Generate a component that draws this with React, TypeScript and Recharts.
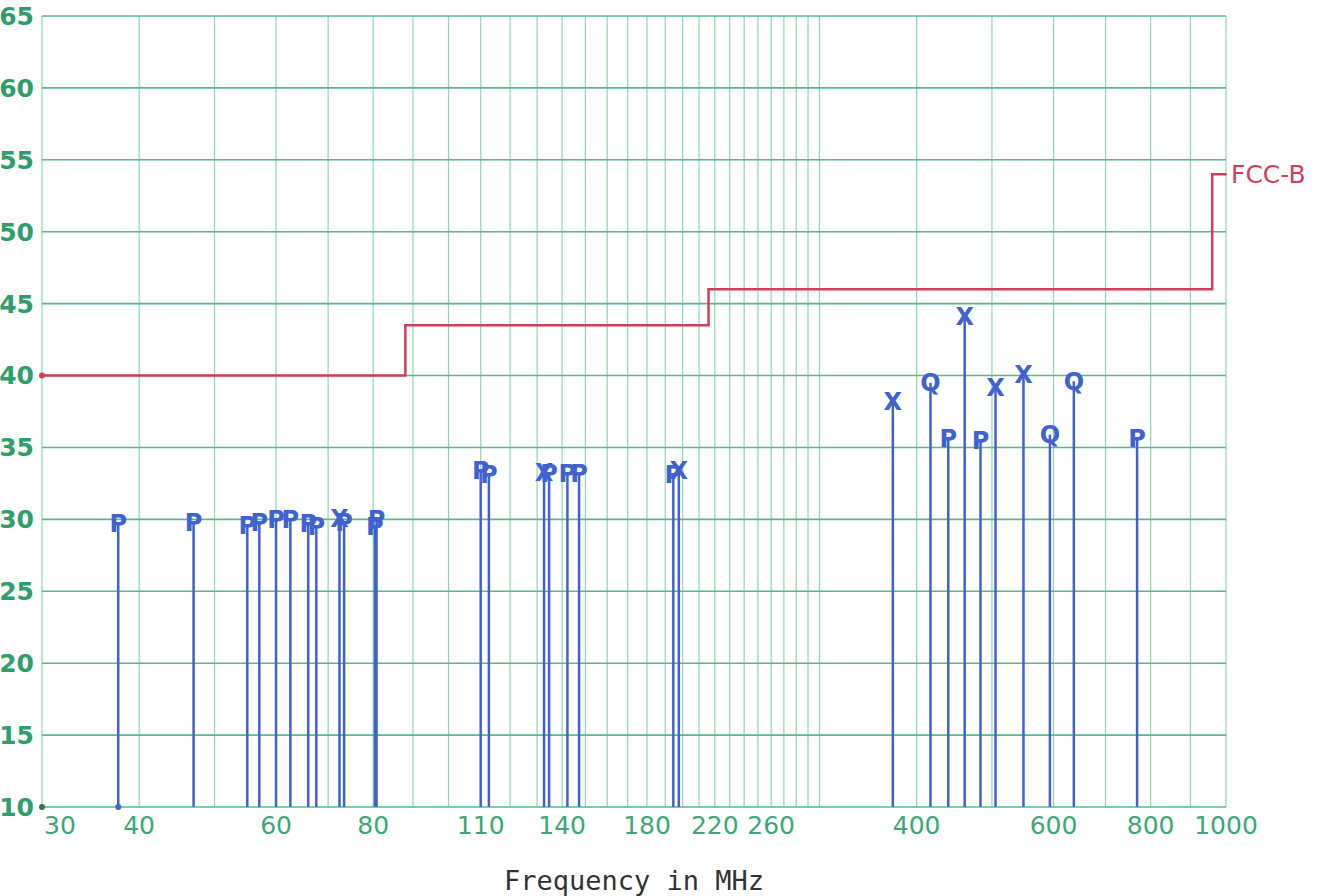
import React from 'react';
import {
  ComposedChart,
  Line,
  Scatter,
  XAxis,
  YAxis,
  CartesianGrid,
  ReferenceLine,
  ReferenceDot,
} from 'recharts';

// measured emissions: frequency (MHz), level (dBuV/m), detector letter
const emFreq = [
  37.6, 47.0, 55.1, 57.1, 60.0, 62.6, 66.0, 67.6, 72.4, 73.4, 80.4, 80.8,
  110.0, 112.7, 132.7, 134.7, 142.2, 147.2, 194.6, 197.8,
  372.8, 416.8, 439.3, 461.2, 483.3, 505.3, 548.9, 593.6, 637.2, 768.5,
];
const emLevel = [
  29.7, 29.8, 29.6, 29.8, 30.0, 30.0, 29.7, 29.5, 30.1, 29.8, 29.5, 30.0,
  33.4, 33.1, 33.3, 33.2, 33.2, 33.2, 33.1, 33.4,
  38.2, 39.5, 35.6, 44.1, 35.5, 39.2, 40.1, 35.9, 39.6, 35.6,
];
const emMark = [
  'P', 'P', 'P', 'P', 'P', 'P', 'P', 'P', 'X', 'P', 'P', 'P',
  'P', 'P', 'X', 'P', 'P', 'P', 'P', 'X',
  'X', 'Q', 'P', 'X', 'P', 'X', 'X', 'Q', 'Q', 'P',
];

// FCC class B limit
const limitFreq = [30, 88, 216, 960, 1000];
const limitLevel = [40, 43.5, 46, 54, 54];

const gridFreqs = [
  30, 40, 50, 60, 70, 80, 90, 100, 110, 120, 130, 140, 150, 160, 170, 180, 190,
  200, 210, 220, 230, 240, 250, 260, 270, 280, 290, 300,
  400, 500, 600, 700, 800, 900, 1000,
];
const freqLabels = [30, 40, 60, 80, 110, 140, 180, 220, 260, 400, 600, 800, 1000];
const levelTicks = [10, 15, 20, 25, 30, 35, 40, 45, 50, 55, 60, 65];

const emissions = emFreq.map((f, i) => ({ f, v: emLevel[i], mark: emMark[i] }));
const limit = limitFreq.map((f, i) => ({ f, v: limitLevel[i] }));

const GREEN = '#2f9d6c';
const BLUE = '#3f62d0';
const RED = '#d23d5a';

const FreqTick = (props: any) => {
  const { x, y, payload } = props;
  if (!freqLabels.includes(payload.value)) return <g />;
  // the plotter nudged "30" right so it doesn't hit the "10"
  const dx = payload.value === 30 ? 18 : 0;
  return (
    <text
      x={x + dx}
      y={y}
      dy="0.74em"
      textAnchor="middle"
      fill="#3aa877"
      fontSize={25}
      fontFamily="DejaVu Sans"
    >
      {payload.value}
    </text>
  );
};

const Marker = (props: any) => {
  const { cx, cy, payload } = props;
  return (
    <text
      x={cx}
      y={cy}
      dy="0.36em"
      textAnchor="middle"
      fill={BLUE}
      fontSize={24}
      fontWeight="bold"
      fontFamily="DejaVu Sans"
    >
      {payload.mark}
    </text>
  );
};

export default function App() {
  return (
    <div style={{ position: 'absolute', left: 0, top: 0, width: 1328, height: 896, background: '#fff' }}>
      <ComposedChart
        width={1328}
        height={896}
        margin={{ top: 16, right: 102, bottom: 49, left: 0 }}
      >
        <CartesianGrid horizontal={false} stroke="#8ed6b2" strokeWidth={1.2} />
        <CartesianGrid vertical={false} stroke="#56ba8b" strokeWidth={1.6} />
        <XAxis
          dataKey="f"
          type="number"
          scale="log"
          domain={[30, 1000]}
          ticks={gridFreqs}
          interval={0}
          allowDataOverflow
          axisLine={false}
          tickLine={false}
          height={40}
          tick={<FreqTick />}
          label={{
            value: 'Frequency in MHz',
            position: 'bottom',
            offset: 24,
            style: { fontFamily: 'DejaVu Sans Mono', fontSize: 27, fill: '#333' },
          }}
        />
        <YAxis
          type="number"
          domain={[10, 65]}
          ticks={levelTicks}
          interval={0}
          allowDataOverflow
          axisLine={false}
          tickLine={false}
          width={42}
          tick={{ fill: GREEN, fontSize: 25, fontWeight: 'bold', fontFamily: 'DejaVu Sans' }}
        />
        {emissions.map((e, i) => (
          <ReferenceLine
            key={i}
            segment={[{ x: e.f, y: 10 }, { x: e.f, y: e.v }]}
            stroke={BLUE}
            strokeWidth={2.5}
          />
        ))}
        <Line
          data={limit}
          dataKey="v"
          type="stepAfter"
          stroke={RED}
          strokeWidth={2.5}
          dot={false}
          isAnimationActive={false}
        />
        <ReferenceDot x={30} y={40} r={3} fill={RED} stroke="none" />
        <ReferenceDot x={30} y={10} r={3} fill="#2a7a55" stroke="none" />
        <ReferenceDot x={emFreq[0]} y={10} r={3} fill={BLUE} stroke="none" />
        <ReferenceDot
          x={1000}
          y={54}
          r={1}
          fill={RED}
          stroke="none"
          label={{
            value: 'FCC-B',
            position: 'right',
            offset: 4,
            fill: RED,
            fontSize: 25,
            fontFamily: 'DejaVu Sans',
          }}
        />
        <Scatter
          data={emissions}
          dataKey="v"
          shape={<Marker />}
          isAnimationActive={false}
        />
      </ComposedChart>
    </div>
  );
}
